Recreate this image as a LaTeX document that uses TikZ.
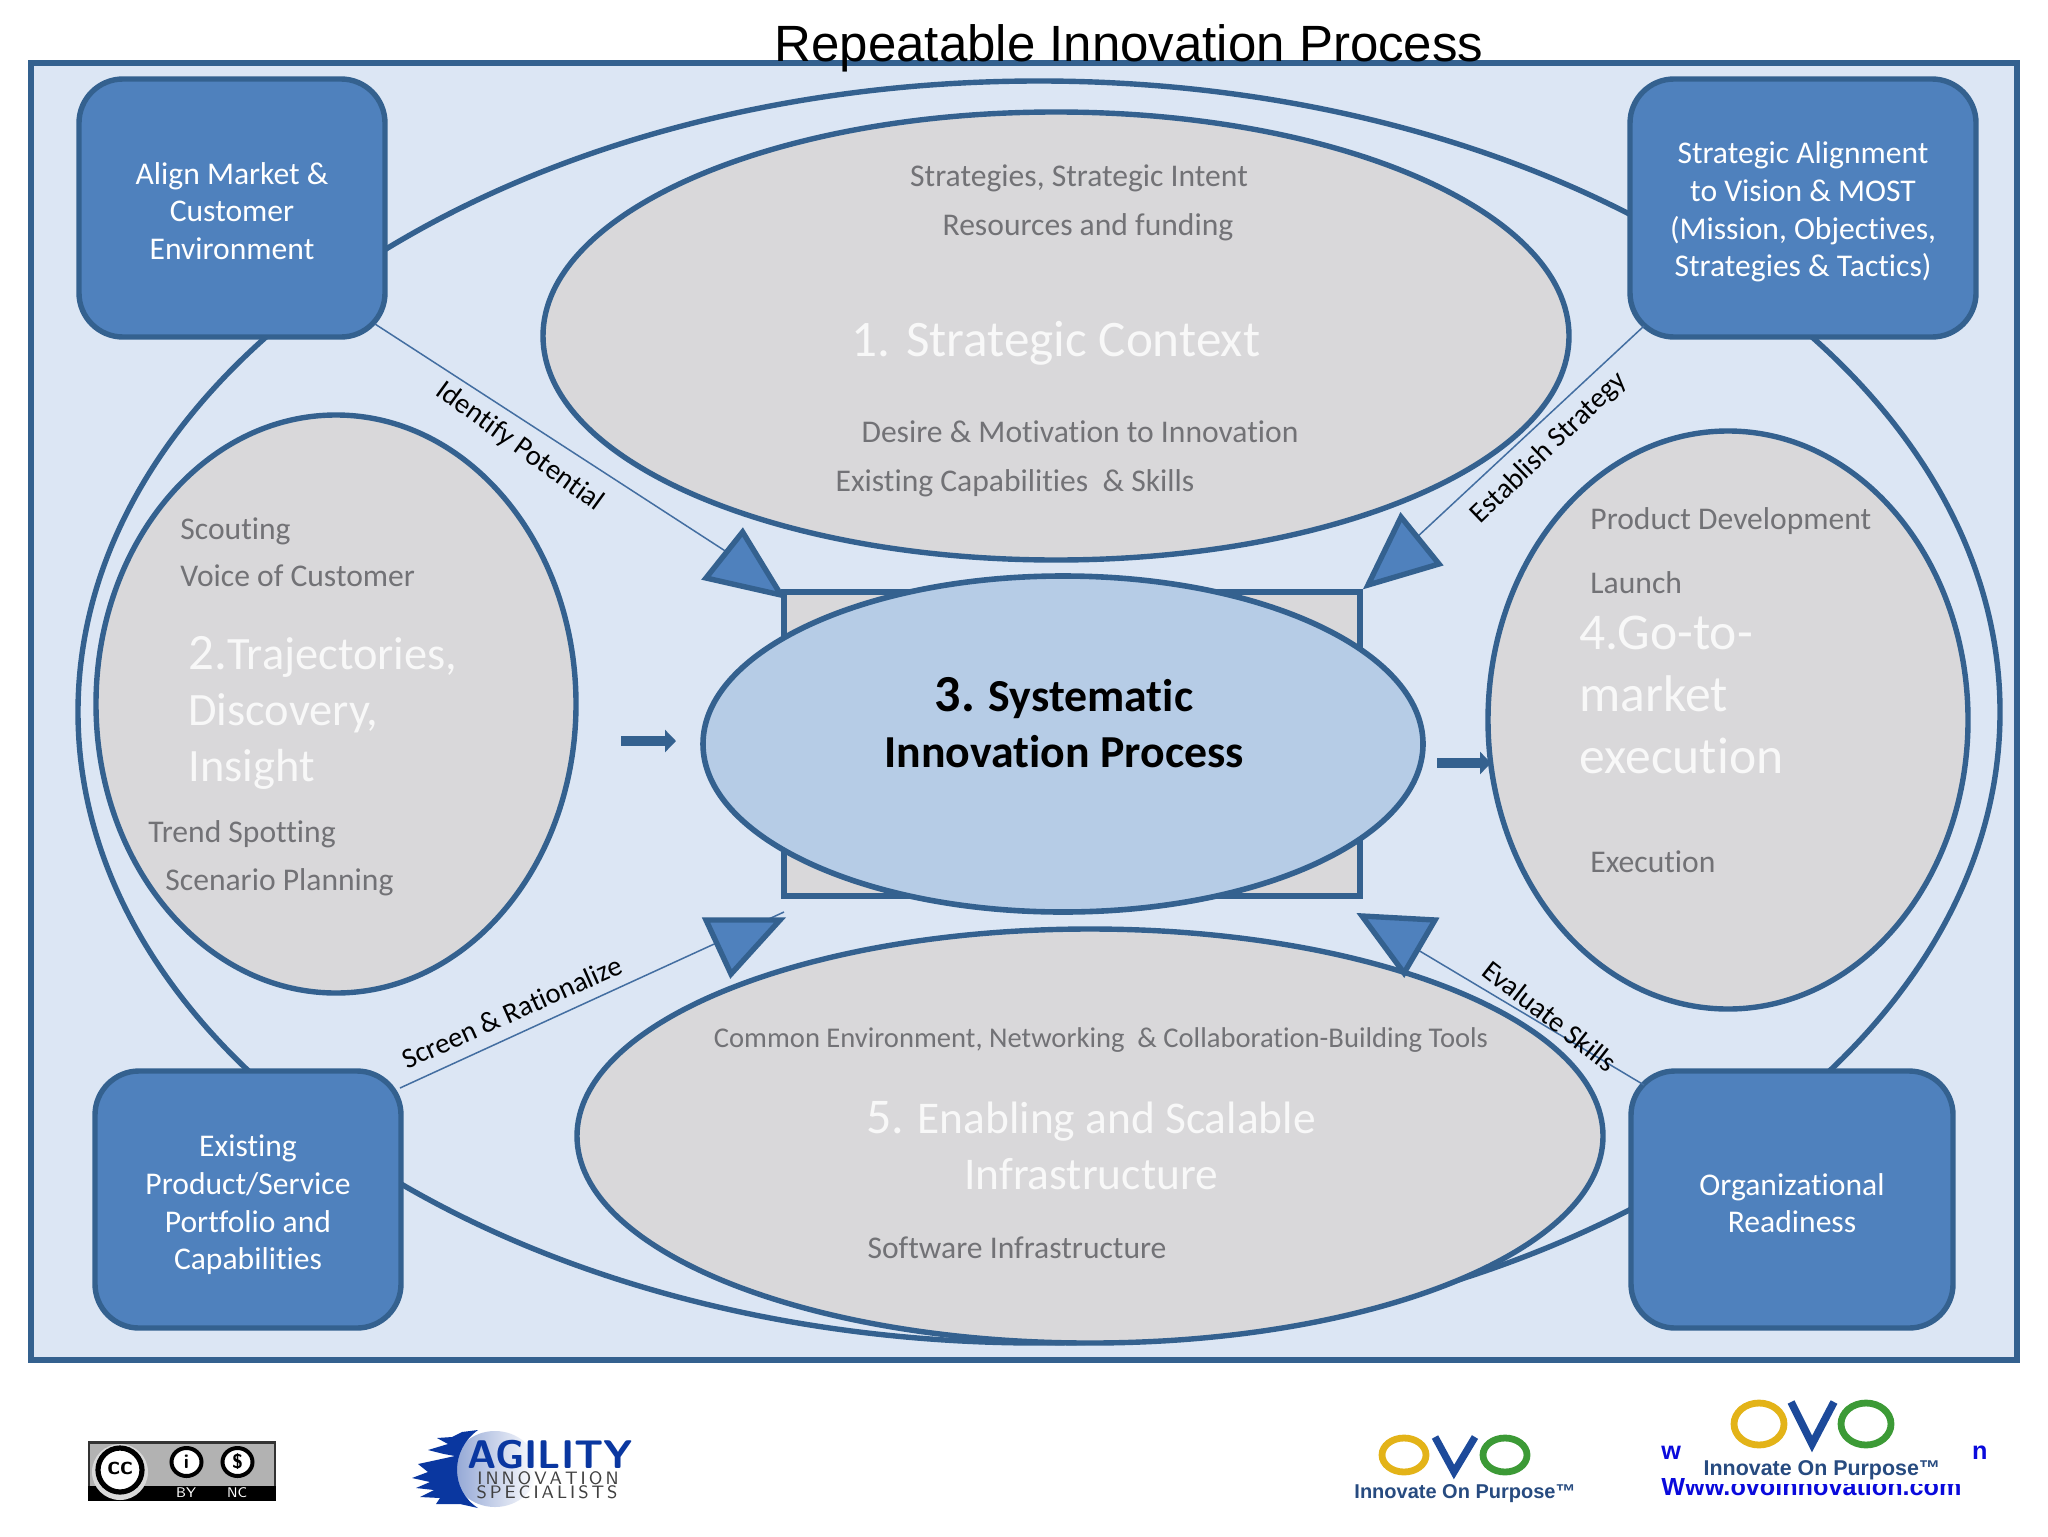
\documentclass[tikz,border=0pt]{standalone}
\usepackage{fontspec}
\setmainfont[Ligatures=NoCommon]{Carlito}
\newfontfamily\arialf{Liberation Sans}
\usetikzlibrary{shapes.geometric,arrows.meta}
\definecolor{panel}{HTML}{DCE6F4}
\definecolor{edge}{HTML}{34618F}
\definecolor{boxblue}{HTML}{4F81BD}
\definecolor{oval}{HTML}{D9D8DA}
\definecolor{core}{HTML}{B6CCE6}
\definecolor{greytxt}{HTML}{727276}
\definecolor{titlew}{HTML}{F8F8F8}
\definecolor{logoblue}{HTML}{0A37A0}
\definecolor{ovoyellow}{HTML}{E3B318}
\definecolor{ovoblue}{HTML}{1D4A9A}
\definecolor{ovogreen}{HTML}{3C9A36}
\definecolor{ovotxt}{HTML}{274B80}
\definecolor{urlblue}{HTML}{0A0ADC}
\tikzset{
  x=0.5pt,y=-0.5pt,
  ovalshape/.style={draw=edge,fill=oval,line width=2.7pt},
  roundbox/.style={rounded corners=22pt,draw=edge,fill=boxblue,line width=2.7pt},
  boxtxt/.style={text=white,align=center,font=\fontsize{15.8}{18.8}\selectfont},
  grey/.style={text=greytxt,font=\fontsize{15.8}{18}\selectfont,inner sep=0pt},
  greyl/.style={grey,anchor=west},
  head/.style={text=titlew,font=\fontsize{25.6}{28.2}\selectfont,inner sep=0pt},
  headl/.style={head,anchor=west,align=left},
  thin link/.style={draw=boxblue!85!black,line width=0.75pt},
  tri/.style={draw=edge,fill=boxblue,line width=2.7pt,line join=miter},
  tag/.style={text=black,font=\fontsize{14.3}{16}\selectfont,inner sep=0pt},
  ovoring/.style={draw=#1,line width=3.4pt,fill=none},
}
\begin{document}
\begin{tikzpicture}
\useasboundingbox (0,0) rectangle (2048,1536);
\fill[white] (0,0) rectangle (2048,1536);
% frame
\draw[draw=edge,fill=panel,line width=2.8pt] (31,63) rectangle (2017,1360);
\node[font=\arialf\fontsize{25.5}{30}\selectfont,inner sep=0pt] (title) at (1129,48) {Repeatable Innovation Process};
% outer ring
\draw[draw=edge,line width=2.7pt] (1039,712) ellipse [x radius=961,y radius=631];
% ovals
\draw[ovalshape] (1056,336) ellipse [x radius=513,y radius=224];
\draw[ovalshape] (336,704) ellipse [x radius=240,y radius=289];
\draw[ovalshape] (1728,720) ellipse [x radius=240,y radius=289];
\draw[ovalshape] (1090,1136) ellipse [x radius=513,y radius=207];
% boxes
\draw[roundbox] (79,79) rectangle (385,337);
\draw[roundbox] (1630,79) rectangle (1976,337);
\draw[roundbox] (95,1071) rectangle (401,1328);
\draw[roundbox] (1631,1071) rectangle (1953,1328);
\node[boxtxt] (tl) at (232,211) {Align Market \&\\Customer\\Environment};
\node[boxtxt] (tr) at (1803,212) {Strategic Alignment\\to Vision \& MOST\\(Mission, Objectives,\\Strategies \& Tactics)};
\node[boxtxt] (bl) at (248,1205) {Existing\\Product/Service\\Portfolio and\\Capabilities};
\node[boxtxt] (br) at (1792,1203) {Organizational\\Readiness};
% centre
\draw[draw=edge,fill=oval,line width=2.6pt] (784,592) rectangle (1360,896);
\draw[draw=edge,fill=core,line width=2.8pt] (1063,744) ellipse [x radius=360,y radius=168];
\node[align=center,font=\bfseries\fontsize{22.9}{28}\selectfont,inner sep=0pt] (sys) at (1064,723) {{\fontsize{26}{28}\selectfont 3.} Systematic\\Innovation Process};
% thin links
\coordinate (a1) at (375,324); \coordinate (a2) at (733,556);
\coordinate (b1) at (1644,326); \coordinate (b2) at (1416,538);
\coordinate (c1) at (400,1088); \coordinate (c2) at (784,912);
\coordinate (d1) at (1644,1085); \coordinate (d2) at (1418,950);
\draw[thin link] (a1) -- (a2);
\draw[thin link] (b1) -- (b2);
\draw[thin link] (c1) -- (c2);
\draw[thin link] (d1) -- (d2);
% triangles
\draw[tri] (742.6,532) -- (706,578) -- (781,595) -- cycle;
\draw[tri] (1401,517) -- (1439,564) -- (1368,585) -- cycle;
\draw[tri] (706,920) -- (780,920) -- (731,974) -- cycle;
\draw[tri] (1362,916) -- (1435,920) -- (1404,973) -- cycle;
% small block arrows
\coordinate (la) at (621,741); \coordinate (lb) at (676,741);
\coordinate (ra) at (1437,763); \coordinate (rb) at (1491,763);
\draw[edge,line width=4.6pt,-{Triangle[length=5.5pt,width=11pt]}] (la) -- (lb);
\draw[edge,line width=4.6pt,-{Triangle[length=5.5pt,width=11pt]}] (ra) -- (rb);
% link labels
\node[tag,rotate=-36] (t1) at (520,447) {Identify Potential};
\node[tag,rotate=44] (t2) at (1549,448) {Establish Strategy};
\node[tag,rotate=24] (t3) at (512,1012) {Screen \& Rationalize};
\node[tag,rotate=-38] (t4) at (1550,1016) {Evaluate Skills};
% oval text
\node[grey] (s1) at (1079,178) {Strategies, Strategic Intent};
\node[grey] (s2) at (1088,227) {Resources and funding};
\node[head] (s3) at (1056,343) {1. Strategic Context};
\node[grey] (s4) at (1080,432) {Desire \& Motivation to Innovation};
\node[grey] (s5) at (1015,483) {Existing Capabilities~ \& Skills};
\node[greyl] (l1) at (180,531) {Scouting};
\node[greyl] (l2) at (180,576) {Voice of Customer};
\node[headl,font=\fontsize{23.2}{28}\selectfont] (l3) at (188,713) {{\fontsize{25.5}{28}\selectfont 2.}Trajectories,\\Discovery,\\Insight};
\node[greyl] (l4) at (148,834) {Trend Spotting};
\node[greyl] (l5) at (165,882) {Scenario Planning};
\node[greyl] (r1) at (1590,521) {Product Development};
\node[greyl] (r2) at (1590,583) {Launch};
\node[headl,font=\fontsize{25.8}{30.8}\selectfont] (r3) at (1579,695) {4.Go-to-\\market\\execution};
\node[greyl] (r4) at (1590,862) {Execution};
\node[grey,font=\fontsize{14.3}{16}\selectfont] (b1t) at (1101,1040) {Common Environment, Networking~ \& Collaboration-Building Tools};
\node[head,align=center,font=\fontsize{22.7}{28}\selectfont] (b2t) at (1091,1146) {{\fontsize{25}{28}\selectfont 5.} Enabling and Scalable\\Infrastructure};
\node[grey] (b3t) at (1017,1248) {Software Infrastructure};
% CC badge
\fill[black!80] (88,1441) rectangle (276,1501);
\fill[black!30!white] (90,1444) rectangle (274,1486);
\fill[black] (88,1486) rectangle (276,1501);
\fill[black!15] (120,1472) circle [radius=28];
\draw[black,fill=white,line width=2.6pt] (120,1470) circle [radius=22];
\node[font=\sffamily\bfseries\fontsize{13}{14}\selectfont,inner sep=0pt] (cc) at (120,1468) {cc};
\draw[black,fill=white,line width=2pt] (186.5,1462) ellipse [x radius=15,y radius=14];
\node[font=\sffamily\bfseries\fontsize{10}{10}\selectfont,inner sep=0pt] (cci) at (186.5,1462) {i};
\draw[black,fill=white,line width=2pt] (237.5,1462) ellipse [x radius=15,y radius=14];
\node[font=\sffamily\bfseries\fontsize{10}{10}\selectfont,inner sep=0pt] (ccs) at (237.5,1462) {\$};
\node[text=white,font=\sffamily\fontsize{7}{8}\selectfont,inner sep=0pt] (ccby) at (186,1493) {BY};
\node[text=white,font=\sffamily\fontsize{7}{8}\selectfont,inner sep=0pt] (ccnc) at (237,1493) {NC};
% Agility logo
\shade[left color=logoblue!45!white,right color=white] (495,1469) ellipse [x radius=42,y radius=38];
\fill[logoblue] (478,1430) -- (462,1432) -- (452,1437) -- (437,1438) -- (448,1444) -- (428,1450) -- (444,1454) -- (455,1456) -- (432,1461) -- (418,1464) -- (428,1472) -- (412,1478) -- (430,1482) -- (416,1488) -- (434,1490) -- (420,1497) -- (440,1498) -- (436,1504) -- (460,1504) -- (478,1508)
  .. controls (450,1490) and (450,1450) .. (478,1430) -- cycle;
\node[text=logoblue,font=\sffamily\bfseries\fontsize{20}{22}\selectfont,inner sep=0pt] (ag) at (550,1455) {AGILITY};
\node[text=black!75,font=\sffamily\fontsize{9}{9}\selectfont,inner sep=0pt] (ag2) at (548,1478) {I\,N\,N\,O\,V\,A\,T\,I\,O\,N};
\node[text=black!75,font=\sffamily\fontsize{9}{9}\selectfont,inner sep=0pt] (ag3) at (547,1492) {S\,P\,E\,C\,I\,A\,L\,I\,S\,T\,S};
% OVO left
\draw[ovoring=ovoyellow] (1404,1455) ellipse [x radius=22,y radius=17];
\draw[ovoblue,line width=3.6pt] (1435,1437) -- (1454,1472) -- (1475,1437);
\draw[ovoring=ovogreen] (1505,1455) ellipse [x radius=22,y radius=17];
\node[text=ovotxt,font=\arialf\bfseries\fontsize{10}{10}\selectfont,inner sep=0pt] (ovo1) at (1465,1494) {Innovate On Purpose™};
% URL
\node[text=urlblue,font=\arialf\bfseries\fontsize{12.6}{13}\selectfont,inner sep=0pt,anchor=base west] (w1) at (1661,1459) {w};
\node[text=urlblue,font=\arialf\bfseries\fontsize{12.6}{13}\selectfont,inner sep=0pt,anchor=base east] (n1) at (1988,1459) {n};
\node[text=urlblue,font=\arialf\bfseries\fontsize{12.6}{13}\selectfont,inner sep=0pt,anchor=base west] (w2) at (1661,1495) {Www.ovoinnovation.com};
\fill[white] (1685,1395) rectangle (1965,1484);
\fill[white] (1661,1466) rectangle (1685,1478);
% OVO right
\draw[ovoring=ovoyellow] (1759,1424) ellipse [x radius=25,y radius=21];
\draw[ovoblue,line width=3.8pt] (1791,1402) -- (1812,1444) -- (1834,1402);
\draw[ovoring=ovogreen] (1866,1424) ellipse [x radius=25,y radius=21];
\node[text=ovotxt,font=\arialf\bfseries\fontsize{10.7}{10}\selectfont,inner sep=0pt] (ovo2) at (1822,1470) {Innovate On Purpose™};
\end{tikzpicture}
\end{document}
